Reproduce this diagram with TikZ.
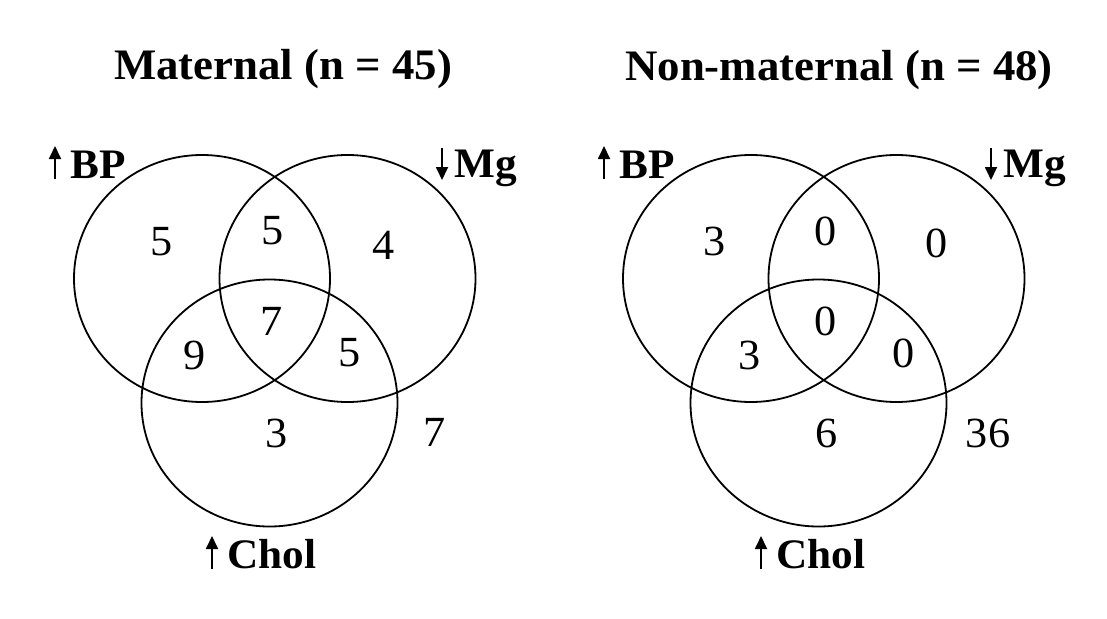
\documentclass[tikz,border=0pt]{standalone}
\usepackage{fontspec}
\setmainfont{Liberation Serif}[FakeStretch=1.03]
\usetikzlibrary{shapes.geometric,arrows.meta}
\tikzset{
  vcirc/.style={ellipse, draw=black, line width=1.8pt, minimum width=256pt, minimum height=247pt, inner sep=0pt},
  num/.style={inner sep=0pt, anchor=center, font=\fontsize{43}{50}\selectfont},
  ttl/.style={inner sep=0pt, anchor=base, font=\fontsize{43.5}{50}\selectfont\bfseries},
  lbl/.style={inner sep=0pt, anchor=base west, font=\fontsize{42}{48}\selectfont\bfseries},
  arr/.style={line width=1.8pt, -{Triangle[width=12pt,length=13pt]}}
}
\begin{document}
\begin{tikzpicture}[x=1pt,y=-1pt]
\useasboundingbox[fill=white] (0,0) rectangle (1107,618);
% ---------- Maternal ----------
\node[ttl] (t1) at (283,79) {Maternal (n = 45)};
\node[vcirc] (bp1) at (202,278.5) {};
\node[vcirc] (mg1) at (347.5,278.5) {};
\node[vcirc] (ch1) at (269.5,403) {};
\node[lbl] (lbp1) at (70.5,178) {BP};
\node[lbl] (lmg1) at (454,177) {Mg};
\node[lbl] (lch1) at (227.5,568) {Chol};
\coordinate (abp1a) at (55,179); \coordinate (abp1b) at (55,146);
\coordinate (amg1a) at (442,148); \coordinate (amg1b) at (442,180);
\coordinate (ach1a) at (212,569); \coordinate (ach1b) at (212,536);
\draw[arr] (abp1a) -- (abp1b);
\draw[arr] (amg1a) -- (amg1b);
\draw[arr] (ach1a) -- (ach1b);
\node[num] (n1a) at (161.7,241.7) {5};
\node[num] (n1b) at (273,231) {5};
\node[num] (n1c) at (383.3,245) {4};
\node[num] (n1d) at (271.7,321.7) {7};
\node[num] (n1e) at (195,355) {9};
\node[num] (n1f) at (350,353) {5};
\node[num] (n1g) at (276.7,433) {3};
\node[num] (n1h) at (435,432) {7};
% ---------- Non-maternal ----------
\node[ttl] (t2) at (839,80) {Non-maternal (n = 48)};
\node[vcirc] (bp2) at (751,278.5) {};
\node[vcirc] (mg2) at (896.5,278.5) {};
\node[vcirc] (ch2) at (818.5,403) {};
\node[lbl] (lbp2) at (619.5,178) {BP};
\node[lbl] (lmg2) at (1003,177) {Mg};
\node[lbl] (lch2) at (776.5,568) {Chol};
\coordinate (abp2a) at (604,179); \coordinate (abp2b) at (604,146);
\coordinate (amg2a) at (991,148); \coordinate (amg2b) at (991,180);
\coordinate (ach2a) at (761,569); \coordinate (ach2b) at (761,536);
\draw[arr] (abp2a) -- (abp2b);
\draw[arr] (amg2a) -- (amg2b);
\draw[arr] (ach2a) -- (ach2b);
\node[num] (n2a) at (715,241.7) {3};
\node[num] (n2b) at (826,231) {0};
\node[num] (n2c) at (936.7,243) {0};
\node[num] (n2d) at (826,321.7) {0};
\node[num] (n2e) at (749.3,355) {3};
\node[num] (n2f) at (903.3,353) {0};
\node[num] (n2g) at (826.7,433) {6};
\node[num] (n2h) at (988,433.8) {36};
\end{tikzpicture}
\end{document}
